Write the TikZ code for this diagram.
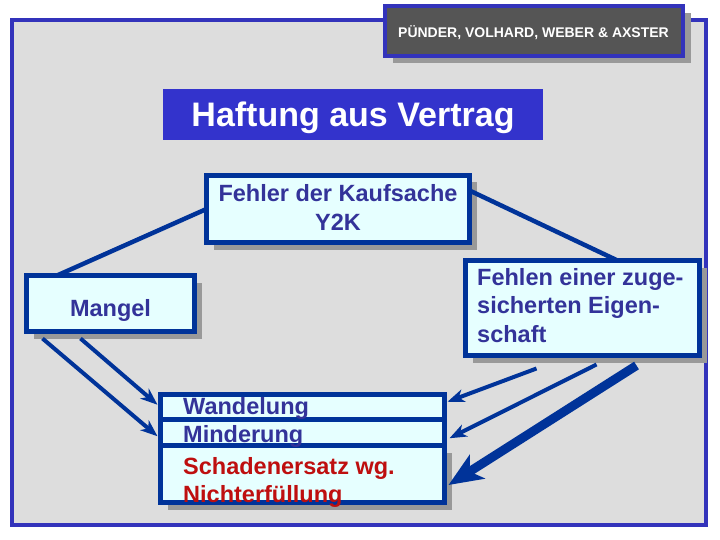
\documentclass[tikz,border=0pt]{standalone}
\usepackage{fontspec}
\setmainfont{Liberation Sans}
\usetikzlibrary{arrows.meta,calc,shadows}
\definecolor{frameblue}{RGB}{51,51,187}
\definecolor{framegray}{RGB}{221,221,221}
\definecolor{hdrgray}{RGB}{85,85,85}
\definecolor{shadowgray}{RGB}{153,153,153}
\definecolor{titleblue}{RGB}{51,51,204}
\definecolor{boxblue}{RGB}{0,51,153}
\definecolor{boxfill}{RGB}{230,255,255}
\definecolor{textblue}{RGB}{51,51,153}
\definecolor{textred}{RGB}{190,15,15}
\tikzset{
  shd/.style={drop shadow={shadow xshift=7pt, shadow yshift=-7pt, fill=shadowgray, opacity=1}},
  box/.style={draw=boxblue, line width=5pt, fill=boxfill, inner sep=0pt, outer sep=0pt},
  txt/.style={font=\bfseries\fontsize{23.5}{28.5}\selectfont, text=textblue, inner sep=0pt},
  rtxt/.style={txt, text=textred},
  conn/.style={draw=boxblue, line width=4.5pt},
  arr/.style={draw=boxblue, line width=4pt, -{Stealth[length=17pt, width=13pt, inset=5pt]}},
  bigarr/.style={draw=boxblue, line width=9pt, -{Stealth[length=34pt, width=28pt, inset=9pt]}}
}
\begin{document}
\begin{tikzpicture}[x=1pt,y=-1pt]
\useasboundingbox (0,0) rectangle (720,540);
\fill[white] (0,0) rectangle (720,540);
% outer frame
\node[draw=frameblue, line width=4pt, fill=framegray, minimum width=693.5pt, minimum height=504pt, inner sep=0pt, outer sep=0pt] (frame) at (358.75,272.5) {};
% header
\node[draw=frameblue, line width=4pt, fill=hdrgray, minimum width=298pt, minimum height=50pt, inner sep=0pt, outer sep=0pt,
      drop shadow={shadow xshift=8pt, shadow yshift=-7pt, fill=shadowgray, opacity=1}] (hdr) at (534,31) {};
\node[font=\bfseries\fontsize{14}{16}\selectfont, text=white, inner sep=0pt, anchor=base] (hdrtext) at (533.5,37.5) {PÜNDER, VOLHARD, WEBER \& AXSTER};
% title
\node[fill=titleblue, minimum width=380pt, minimum height=51pt, inner sep=0pt, outer sep=0pt] (title) at (353,114.5) {};
\node[font=\bfseries\fontsize{34}{40}\selectfont, text=white, inner sep=0pt, anchor=base] (titletext) at (353,126.5) {Haftung aus Vertrag};
% boxes
\node[box, shd, minimum width=263pt, minimum height=67pt] (fehler) at (338,209) {};
\node[box, shd, minimum width=168pt, minimum height=56pt] (mangel) at (110.5,303.5) {};
\node[box, shd, minimum width=234pt, minimum height=95pt] (fehlen) at (582.5,308) {};
\draw[conn] (fehler.west) -- ($(mangel.north west)+(30.5,0)$);
\draw[conn] ($(fehler.north east)+(0,15)$) -- ($(fehlen.north west)+(152,0)$);
% texts of upper boxes
\node[txt, align=center, anchor=base] (fehlertext) at (338,230) {Fehler der Kaufsache\\Y2K};
\node[txt, anchor=base] (mangeltext) at (110.5,316) {Mangel};
\node[txt, anchor=base west, align=left] (fehlentext) at (477,342) {Fehlen einer zuge-\\sicherten Eigen-\\schaft};
% bottom stack
\node[box, shd, minimum width=284pt, minimum height=57pt] (schad) at (302.5,474) {};
\node[box, minimum width=284pt, minimum height=26.5pt] (mind) at (302.5,432.25) {};
\node[box, minimum width=284pt, minimum height=24.5pt] (wand) at (302.5,406.75) {};
\node[txt, anchor=base west] (wandtext) at (183,414) {Wandelung};
\node[txt, anchor=base west] (mindtext) at (183,442) {Minderung};
\node[rtxt, anchor=base west] (schadtext1) at (183,474) {Schadenersatz wg.};
\node[rtxt, anchor=base west] (schadtext2) at (183,502) {Nichterfüllung};
% arrows from Mangel
\draw[arr] ($(mangel.south west)+(16,7)$) -- ($(mind.west)+(-3,4)$);
\draw[arr] ($(mangel.south west)+(54,7)$) -- ($(wand.west)+(-3,-2)$);
% arrows from Fehlen
\draw[arr] ($(fehlen.south west)+(71,13)$) -- ($(wand.east)+(3,-5)$);
\draw[arr] ($(fehlen.south west)+(131,9)$) -- ($(mind.east)+(5,6)$);
\draw[bigarr] ($(fehlen.south west)+(171,10)$) -- ($(schad.east)+(4,11)$);
\end{tikzpicture}
\end{document}
